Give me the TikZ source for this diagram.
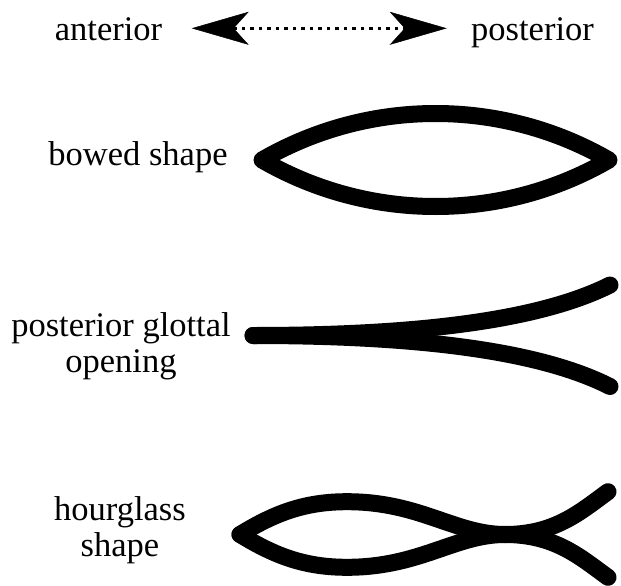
\documentclass[tikz,border=0pt]{standalone}
\usepackage{fontspec}
\setmainfont{Liberation Serif}
\usetikzlibrary{arrows.meta}
\begin{document}
\begin{tikzpicture}[x=1pt,y=-1pt,
  txt/.style={inner sep=0pt, outer sep=0pt, align=center,
    font=\rmfamily\fontsize{34.5}{36}\selectfont},
  fold/.style={line width=17pt, line cap=round, line join=round},
  axis/.style={line width=3.5pt, dash pattern=on 3.5pt off 5pt,
    {Stealth[length=57pt,width=33pt,inset=15pt,line width=0.5pt]}-{Stealth[length=57pt,width=33pt,inset=15pt,line width=0.5pt]}}]
\useasboundingbox (0,0) rectangle (621,586);

% direction labels and axis arrow
\node[txt, anchor=base] (ant) at (108.5,40.5) {anterior};
\node[txt, anchor=base] (post) at (532.5,40.5) {posterior};
\coordinate (axL) at (191.7,28.3);
\coordinate (axR) at (446.7,28.3);
\draw[axis] (axL) -- (axR);

% bowed shape
\node[txt, anchor=base] (bowed) at (138,165) {bowed shape};
\draw[fold] (262,160) .. controls (369.4,98) and (501.6,98) .. (609,160)
            .. controls (501.6,222) and (369.4,222) .. (262,160) -- cycle;

% posterior glottal opening (base anchor sits on the last line)
\node[txt, anchor=base] (pgo) at (121,372.7) {posterior glottal\\opening};
\draw[fold] (253,335.5) .. controls (420,335.5) and (540,320) .. (610,285);
\draw[fold] (253,335.5) .. controls (420,335.5) and (540,351) .. (610,386.5);

% hourglass shape
\node[txt, anchor=base] (hg) at (120,556.7) {hourglass\\shape};
\draw[fold] (240,534.5) .. controls (275,513) and (305,501.7) .. (347,501.7)
            .. controls (420,501.7) and (455,534.5) .. (505,534.5)
            .. controls (555,534.5) and (580,512) .. (608,491.7);
\draw[fold] (240,534.5) .. controls (275,556) and (305,567.3) .. (347,567.3)
            .. controls (420,567.3) and (455,534.5) .. (505,534.5)
            .. controls (555,534.5) and (580,557) .. (608,577.3);
\end{tikzpicture}
\end{document}
